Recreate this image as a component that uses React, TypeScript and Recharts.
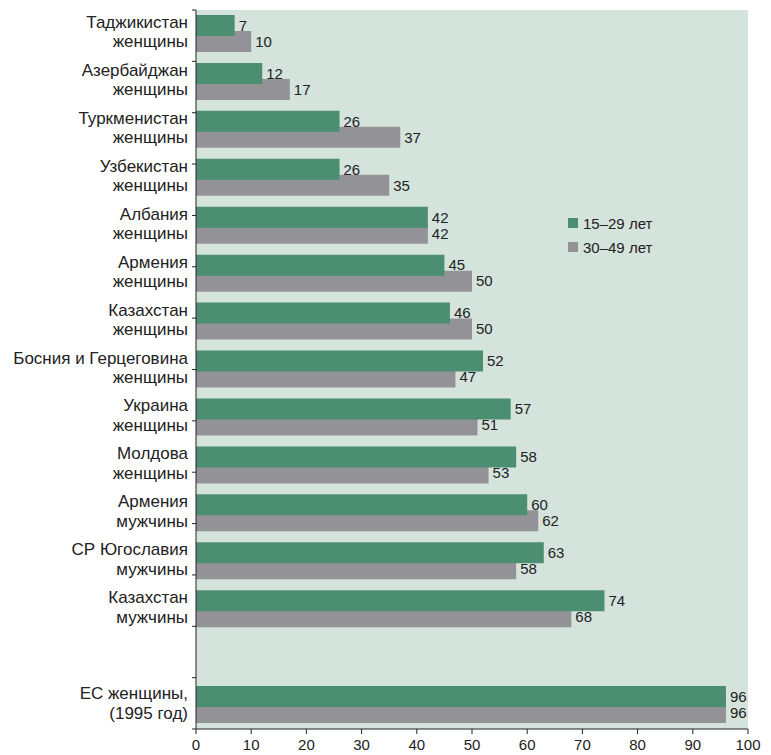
import { BarChart, Bar, XAxis, YAxis, CartesianGrid, Legend, LabelList } from "recharts";

// Rows top to bottom; the empty row keeps a blank band before the EU bar
const rowNames = [
  "Таджикистан\nженщины",
  "Азербайджан\nженщины",
  "Туркменистан\nженщины",
  "Узбекистан\nженщины",
  "Албания\nженщины",
  "Армения\nженщины",
  "Казахстан\nженщины",
  "Босния и Герцеговина\nженщины",
  "Украина\nженщины",
  "Молдова\nженщины",
  "Армения\nмужчины",
  "СР Югославия\nмужчины",
  "Казахстан\nмужчины",
  "",
  "ЕС женщины,\n(1995 год)",
];

const age15to29 = [7, 12, 26, 26, 42, 45, 46, 52, 57, 58, 60, 63, 74, null, 96];
const age30to49 = [10, 17, 37, 35, 42, 50, 50, 47, 51, 53, 62, 58, 68, null, 96];

const xTicks = [0, 10, 20, 30, 40, 50, 60, 70, 80, 90, 100];
// band edges for the small marks on the left axis
const bandEdges = Array.from({ length: rowNames.length + 1 }, (_, i) => i);

const GREEN = "#4b8e72";
const GRAY = "#939397";
const PLOT_BG = "#d4e3dc";
const INK = "#222";
const FONT = '"Liberation Sans", Arial, sans-serif';

const data = rowNames.map((name, i) => ({
  name,
  young: age15to29[i],
  older: age30to49[i],
}));

function RowTick({ x, y, payload }: any) {
  const lines = String(payload.value).split("\n");
  if (!lines[0]) return <g />;
  return (
    <text x={x} y={y} textAnchor="end" fill={INK} fontSize={17} fontFamily={FONT}>
      <tspan x={x} dy={-6}>{lines[0]}</tspan>
      {lines[1] && <tspan x={x} dy={19.5}>{lines[1]}</tspan>}
    </text>
  );
}

function LegendBox({ payload }: any) {
  return (
    <div style={{ fontFamily: FONT, fontSize: 15, color: INK }}>
      {(payload ?? []).map((p: any) => (
        <div key={p.value} style={{ display: "flex", alignItems: "center", height: 24 }}>
          <span style={{ display: "inline-block", width: 10, height: 10, background: p.color, marginRight: 5 }} />
          {p.value}
        </div>
      ))}
    </div>
  );
}

export default function App() {
  return (
    <div style={{ position: "absolute", left: 0, top: 0, background: "#fff" }}>
      <BarChart
        width={771}
        height={755}
        data={data}
        layout="vertical"
        margin={{ top: 10, right: 23, bottom: 0, left: 0 }}
        barSize={21}
        barGap={-5}
      >
        <CartesianGrid fill={PLOT_BG} horizontal={false} vertical={false} />
        <XAxis
          type="number"
          domain={[0, 100]}
          ticks={xTicks}
          height={26}
          tickSize={5}
          tickMargin={5}
          axisLine={{ stroke: INK }}
          tickLine={{ stroke: INK }}
          tick={{ fill: INK, fontSize: 15, fontFamily: FONT }}
        />
        <YAxis
          yAxisId="edges"
          type="number"
          domain={[0, bandEdges.length - 1]}
          ticks={bandEdges}
          width={4}
          tickSize={4}
          tickFormatter={() => ""}
          axisLine={{ stroke: INK }}
          tickLine={{ stroke: INK }}
        />
        <YAxis
          yAxisId="rows"
          type="category"
          dataKey="name"
          width={192}
          tickSize={0}
          tickMargin={4}
          axisLine={false}
          tickLine={false}
          interval={0}
          tick={<RowTick />}
        />
        <Legend
          layout="vertical"
          align="center"
          verticalAlign="middle"
          content={<LegendBox />}
          wrapperStyle={{ left: 568, top: 211, width: 120 }}
        />
        <Bar yAxisId="rows" dataKey="young" name="15–29 лет" fill={GREEN} isAnimationActive={false} zIndex={301}>
          <LabelList dataKey="young" position="right" offset={4} fill={INK} fontSize={15} fontFamily={FONT} />
        </Bar>
        <Bar yAxisId="rows" dataKey="older" name="30–49 лет" fill={GRAY} isAnimationActive={false} zIndex={300}>
          <LabelList dataKey="older" position="right" offset={4} fill={INK} fontSize={15} fontFamily={FONT} />
        </Bar>
      </BarChart>
    </div>
  );
}
